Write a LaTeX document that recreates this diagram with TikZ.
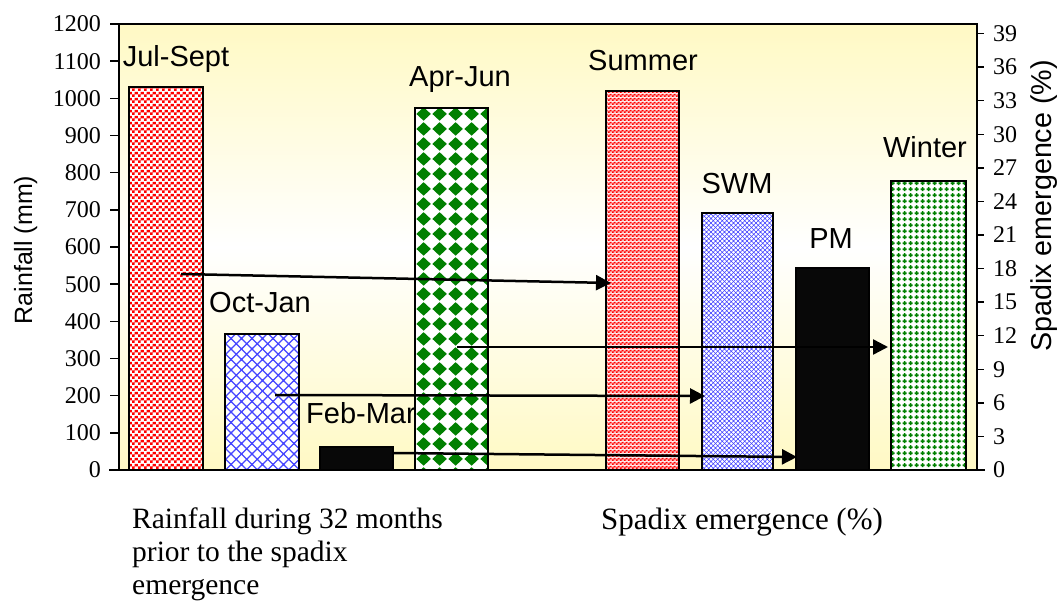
\documentclass[tikz,border=0pt]{standalone}
\usepackage{fontspec}
\setmainfont{Liberation Serif}
\newfontfamily\sansfam{Liberation Sans}
\usetikzlibrary{patterns,arrows.meta}

\definecolor{bgyellow}{RGB}{255,249,196}
\definecolor{dotred}{RGB}{255,0,0}
\definecolor{palered}{RGB}{255,190,190}
\definecolor{hatchblue}{RGB}{70,70,255}
\definecolor{leafgreen}{RGB}{0,128,0}
\definecolor{nearblack}{RGB}{8,8,8}

% coarse red dots
\pgfdeclarepatterninherentlycolored{reddots}
  {\pgfpointorigin}{\pgfpoint{6pt}{6pt}}{\pgfpoint{6pt}{6pt}}
  {\pgfsetfillcolor{dotred}
   \pgfpathrectangle{\pgfpoint{0pt}{0pt}}{\pgfpoint{3pt}{3pt}}
   \pgfpathrectangle{\pgfpoint{3pt}{3pt}}{\pgfpoint{3pt}{3pt}}
   \pgfusepath{fill}}

% wide diagonal lattice
\pgfdeclarepatterninherentlycolored{widelattice}
  {\pgfpoint{-1pt}{-1pt}}{\pgfpoint{11.5pt}{11.5pt}}{\pgfpoint{10.5pt}{10.5pt}}
  {\pgfsetstrokecolor{hatchblue}\pgfsetlinewidth{1.2pt}
   \pgfpathmoveto{\pgfpoint{-1pt}{-1pt}}\pgfpathlineto{\pgfpoint{11.5pt}{11.5pt}}
   \pgfpathmoveto{\pgfpoint{-1pt}{11.5pt}}\pgfpathlineto{\pgfpoint{11.5pt}{-1pt}}
   \pgfusepath{stroke}}

% fine diagonal lattice
\pgfdeclarepatterninherentlycolored{finelattice}
  {\pgfpoint{-0.5pt}{-0.5pt}}{\pgfpoint{5pt}{5pt}}{\pgfpoint{4.5pt}{4.5pt}}
  {\pgfsetstrokecolor{hatchblue}\pgfsetlinewidth{0.6pt}
   \pgfpathmoveto{\pgfpoint{-0.5pt}{-0.5pt}}\pgfpathlineto{\pgfpoint{5pt}{5pt}}
   \pgfpathmoveto{\pgfpoint{-0.5pt}{5pt}}\pgfpathlineto{\pgfpoint{5pt}{-0.5pt}}
   \pgfusepath{stroke}}

% large green diamonds
\pgfdeclarepatterninherentlycolored{bigdiamonds}
  {\pgfpointorigin}{\pgfpoint{16pt}{15pt}}{\pgfpoint{16pt}{15pt}}
  {\pgfsetfillcolor{leafgreen}
   \pgfpathmoveto{\pgfpoint{8pt}{0.3pt}}
   \pgfpathlineto{\pgfpoint{15.6pt}{7.5pt}}
   \pgfpathlineto{\pgfpoint{8pt}{14.7pt}}
   \pgfpathlineto{\pgfpoint{0.4pt}{7.5pt}}
   \pgfpathclose\pgfusepath{fill}}

% fine red check
\pgfdeclarepatterninherentlycolored{finecheck}
  {\pgfpointorigin}{\pgfpoint{4pt}{4pt}}{\pgfpoint{4pt}{4pt}}
  {\pgfsetfillcolor{palered}
   \pgfpathrectangle{\pgfpointorigin}{\pgfpoint{4pt}{4pt}}\pgfusepath{fill}
   \pgfsetfillcolor{dotred}
   \pgfpathrectangle{\pgfpointorigin}{\pgfpoint{2pt}{2pt}}
   \pgfpathrectangle{\pgfpoint{2pt}{2pt}}{\pgfpoint{2pt}{2pt}}
   \pgfusepath{fill}}

% small green crosses
\pgfdeclarepatterninherentlycolored{greencross}
  {\pgfpointorigin}{\pgfpoint{5.6pt}{5.8pt}}{\pgfpoint{5.6pt}{5.8pt}}
  {\pgfsetfillcolor{leafgreen}
   \pgfpathrectangle{\pgfpoint{0.7pt}{2pt}}{\pgfpoint{4.2pt}{1.8pt}}
   \pgfpathrectangle{\pgfpoint{1.9pt}{0.8pt}}{\pgfpoint{1.8pt}{4.2pt}}
   \pgfusepath{fill}}

\begin{document}
\begin{tikzpicture}[x=1pt,y=-1pt,
  bar/.style={draw=black, line width=1.2pt, inner sep=0pt, outer sep=0pt,
    anchor=south west, preaction={fill=white}},
  darkbar/.style={draw=black, line width=1.2pt, inner sep=0pt, outer sep=0pt,
    anchor=south west, fill=nearblack},
  barlabel/.style={font={\sansfam\fontsize{29}{34}\selectfont}, anchor=base, inner sep=0pt},
  axtitle/.style={font={\sansfam\fontsize{#1}{#1}\selectfont}, anchor=base, inner sep=0pt, rotate=90},
  ticklabel/.style={font={\fontsize{24}{24}\selectfont}, inner sep=0pt},
  axisline/.style={line width=2pt, line cap=rect},
  link/.style={-{Triangle[length=15pt,width=15pt]}, line width=2.5pt}]

\useasboundingbox (0,0) rectangle (1060,601);

% plot area with its soft yellow shading
\fill[top color=bgyellow, bottom color=white] (119,24) rectangle (977,247);
\fill[top color=white, bottom color=bgyellow] (119,247) rectangle (977,470);

% rainfall bars
\node[bar, pattern=reddots,     minimum width=74pt, minimum height=383pt] (jul) at (129,470) {};
\node[bar, pattern=widelattice, minimum width=74pt, minimum height=136pt] (oct) at (225,470) {};
\node[darkbar,                  minimum width=73pt, minimum height=23pt]  (feb) at (320,470) {};
\node[bar, pattern=bigdiamonds, minimum width=73pt, minimum height=362pt] (apr) at (415,470) {};

% spadix emergence bars
\node[bar, pattern=finecheck,   minimum width=73pt, minimum height=379pt] (sum) at (606,470) {};
\node[bar, pattern=finelattice, minimum width=71pt, minimum height=257pt] (swm) at (702,470) {};
\node[darkbar,                  minimum width=73pt, minimum height=202pt] (pm)  at (796,470) {};
\node[bar, pattern=greencross,  minimum width=75pt, minimum height=289pt] (win) at (891,470) {};

% bar labels
\node[barlabel] (julLbl) at (176,67)  {Jul-Sept};
\node[barlabel] (octLbl) at (260,313) {Oct-Jan};
\node[barlabel] (febLbl) at (361,424) {Feb-Mar};
\node[barlabel] (aprLbl) at (460,87)  {Apr-Jun};
\node[barlabel] (sumLbl) at (643,71)  {Summer};
\node[barlabel] (swmLbl) at (737,194) {SWM};
\node[barlabel] (pmLbl)  at (831,249) {PM};
\node[barlabel] (winLbl) at (925,158) {Winter};

% frame and axes
\draw[line width=1.5pt] (119,24) -- (977,24);
\draw[axisline] (119,24) -- (119,470);
\draw[axisline] (977,24) -- (977,470);
\draw[axisline] (110,470) -- (984,470);

% left axis: rainfall (mm)
\foreach \k in {0,...,12} {
  \pgfmathsetmacro\yy{470-\k*37.1667}
  \draw[line width=1.5pt] (110,\yy) -- (119,\yy);
  \node[ticklabel, anchor=east] (lt\k) at (101,\yy) {\the\numexpr\k*100\relax};
}
% right axis: spadix emergence (%)
\foreach \k in {0,...,13} {
  \pgfmathsetmacro\yy{470-\k*33.57}
  \draw[line width=1.5pt] (977,\yy) -- (984,\yy);
  \node[ticklabel, anchor=west] (rt\k) at (993,\yy) {\the\numexpr\k*3\relax};
}

\node[axtitle=25]   (ltitle) at (32,250)   {Rainfall (mm)};
\node[axtitle=28.7] (rtitle) at (1051,206) {Spadix emergence (\%)};

% season links
\coordinate (julSrc) at (181,274);
\coordinate (sumDst) at (611,283);
\coordinate (octSrc) at (275,395);
\coordinate (swmDst) at (705,396);
\coordinate (febSrc) at (393,453);
\coordinate (pmDst)  at (797,457);
\coordinate (aprSrc) at (457,347);
\coordinate (winDst) at (888,347);
\draw[link] (julSrc) -- (sumDst);
\draw[link] (octSrc) -- (swmDst);
\draw[link] (febSrc) -- (pmDst);
\draw[link] (aprSrc) -- (winDst);

% captions (base anchor sits on the last line)
\node[anchor=base west, inner sep=0pt, align=left,
      font={\fontsize{29.5}{33}\selectfont}] (capL) at (132,594)
  {Rainfall during 32 months\\prior to the spadix\\emergence};
\node[anchor=base west, inner sep=0pt,
      font={\fontsize{31}{33}\selectfont}] (capR) at (601,529)
  {Spadix emergence (\%)};
\end{tikzpicture}
\end{document}
